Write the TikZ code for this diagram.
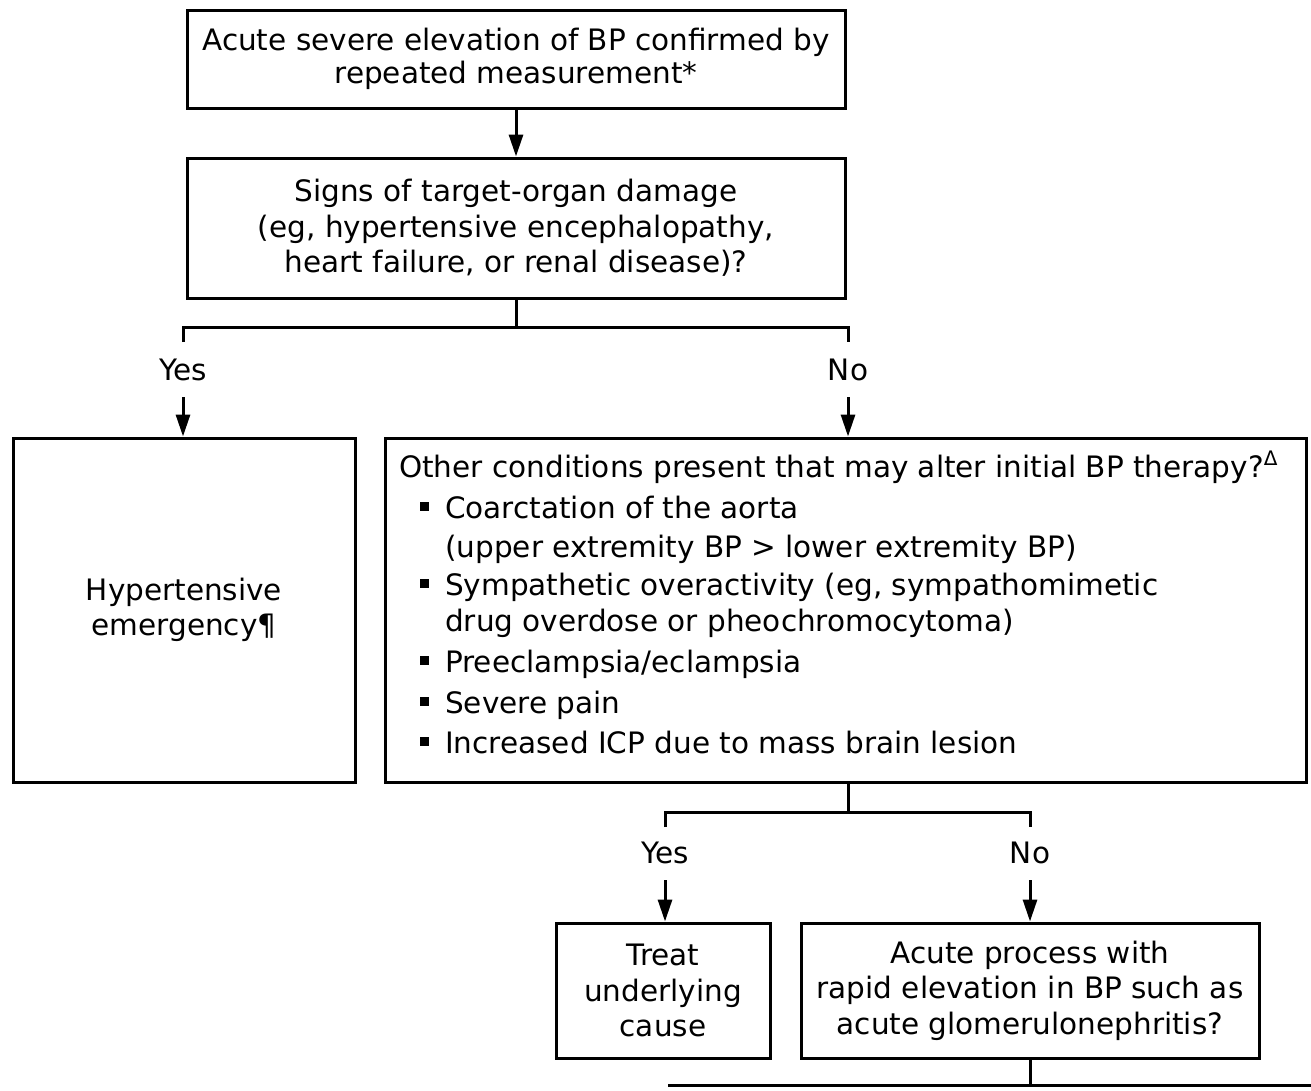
\documentclass[tikz,border=0pt]{standalone}
\usepackage{fontspec}
\setmainfont{DejaVu Sans}
\usetikzlibrary{arrows.meta}
\newcommand{\sqb}{\raisebox{0.25em}{\rule{9pt}{9pt}}}
\begin{document}
\begin{tikzpicture}[x=1pt,y=-1pt,
  box/.style={draw,line width=3pt,align=center,inner sep=0pt,font=\fontsize{29.5}{35.5}\selectfont},
  lbl/.style={font=\fontsize{29.5}{30}\selectfont,inner sep=0pt},
  ln/.style={font=\fontsize{29.5}{30}\selectfont,inner sep=0pt,anchor=west,text height=21pt,text depth=6pt},
  conn/.style={line width=3pt},
  arr/.style={line width=3pt,-{Triangle[width=14pt,length=22pt]}}]
\useasboundingbox (0,0) rectangle (1311,1090);
\node[box,minimum width=658pt,minimum height=98pt,font=\fontsize{29.5}{32.5}\selectfont] (top) at (516,59) {Acute severe elevation of BP confirmed by\\ repeated measurement*};
\node[box,minimum width=658pt,minimum height=140pt] (sig) at (516,228) {Signs of target-organ damage\\ (eg, hypertensive encephalopathy,\\ heart failure, or renal disease)?};
\node[box,minimum width=342pt,minimum height=344pt] (hyp) at (184,610) {Hypertensive\\ emergency¶};
\node[box,minimum width=921pt,minimum height=344pt] (oth) at (845.5,610) {};
\node[box,minimum width=214pt,minimum height=135pt] (trt) at (663,990.5) {Treat\\ underlying\\ cause};
\node[box,minimum width=458pt,minimum height=135pt] (acu) at (1030,990.5) {Acute process with\\ rapid elevation in BP such as\\ acute glomerulonephritis?};
% right box text
\node[ln] (t0) at (399,470) {Other conditions present that may alter initial BP therapy?\raisebox{0.42em}{\fontsize{20}{20}\selectfont Δ}};
\node[ln] (t1) at (420,511) {\sqb\hspace{16pt}Coarctation of the aorta};
\node[ln] (t2) at (445,550) {(upper extremity BP > lower extremity BP)};
\node[ln] (t3) at (420,588) {\sqb\hspace{16pt}Sympathetic overactivity (eg, sympathomimetic};
\node[ln] (t4) at (445,624) {drug overdose or pheochromocytoma)};
\node[ln] (t5) at (420,665) {\sqb\hspace{16pt}Preeclampsia/eclampsia};
\node[ln] (t6) at (420,706) {\sqb\hspace{16pt}Severe pain};
\node[ln] (t7) at (420,746) {\sqb\hspace{16pt}Increased ICP due to mass brain lesion};
% labels
\node[lbl] (y1) at (183,370) {Yes};
\node[lbl] (n1) at (848,370) {No};
\node[lbl] (y2) at (665,853) {Yes};
\node[lbl] (n2) at (1030,853) {No};
% junction coordinates
\coordinate (j1) at (516,327);
\coordinate (j1l) at (183,327);
\coordinate (j1r) at (848,327);
\coordinate (j1le) at (183,342);
\coordinate (j1re) at (848,342);
\coordinate (j2) at (848,812);
\coordinate (j2l) at (665,812);
\coordinate (j2r) at (1030,812);
\coordinate (j2le) at (665,827);
\coordinate (j2re) at (1030,827);
\coordinate (j3) at (1030,1085);
\coordinate (j3l) at (668,1085);
\coordinate (j3r) at (1320,1085);
% connectors
\draw[arr] (top.south) -- (sig.north);
\draw[conn] (sig.south) -- (j1);
\draw[conn] (j1le) -- (j1l) -- (j1r) -- (j1re);
\draw[arr] ([yshift=-16pt]y1.south) -- (y1.south |- hyp.north);
\draw[arr] ([yshift=-16pt]n1.south) -- (n1.south |- oth.north);
\draw[conn] (j2 |- oth.south) -- (j2);
\draw[conn] (j2le) -- (j2l) -- (j2r) -- (j2re);
\draw[arr] ([yshift=-16pt]y2.south) -- (y2.south |- trt.north);
\draw[arr] ([yshift=-16pt]n2.south) -- (n2.south |- acu.north);
\draw[conn] (acu.south) -- (j3);
\draw[conn] (j3l) -- (j3r);
\end{tikzpicture}
\end{document}
